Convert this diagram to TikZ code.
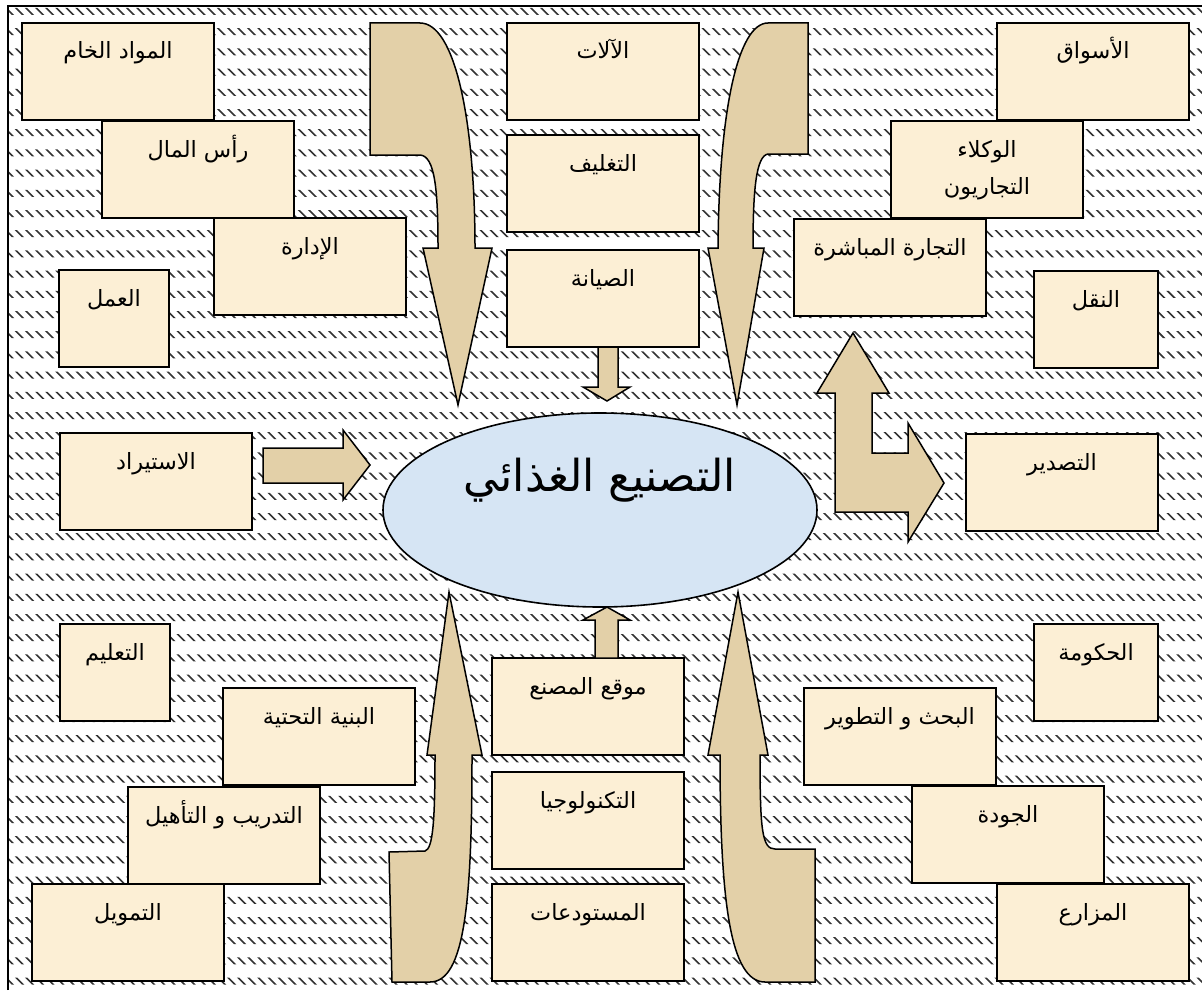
\documentclass[tikz,border=0pt]{standalone}
\usepackage{fontspec}
\newfontfamily\arabicfont[Script=Arabic]{DejaVu Sans}
\TeXXeTstate=1
\usepackage{tikz}
\usetikzlibrary{shapes,positioning}

\definecolor{boxfill}{RGB}{252,239,213}
\definecolor{arrowfill}{RGB}{227,208,168}
\definecolor{hubfill}{RGB}{214,229,244}
\newcommand\artext[1]{{\arabicfont\beginR#1\endR}}

\begin{document}
\begin{tikzpicture}[
    x=0.5pt, y=-0.5pt,
    box/.style={rectangle, draw, line width=0.8pt, fill=boxfill, outer sep=0pt,
        inner xsep=2pt, inner ysep=0pt, minimum width=#1,
        text height=18pt, text depth=30.5pt, font=\fontsize{11.2}{14}\selectfont},
    box/.default=96pt,
    hub/.style={ellipse, draw, line width=0.8pt, fill=hubfill,
        minimum width=217pt, minimum height=97pt,
        text height=10pt, text depth=29pt, font=\fontsize{22}{26}\selectfont},
    blockarrow/.style={draw, line width=0.75pt, fill=arrowfill, line join=miter},
    hatch/.style={line width=0.8pt, black!80}
]
\useasboundingbox (0,0) rectangle (1202,990);
\fill[white] (0,0) rectangle (1202,990);

% hatched background
\begin{scope}
\clip \foreach \r in {0,...,48} { (8,{8+20.2*\r}) rectangle (1202,{15+20.2*\r}) };
\foreach \k in {-100,...,120}
    \draw[hatch] ({8+10.1*\k},0) -- ++(1000,1000);
\end{scope}
\draw[line width=1pt] (8,990) -- (8,6) -- (1202,6);

% left side
\node[box, anchor=north west] (raw) at (22,23) {\artext{المواد الخام}};
\node[box, anchor=north west] (capital) at (102,121) {\artext{رأس المال}};
\node[box, anchor=north west] (mgmt) at (214,218) {\artext{الإدارة}};
\node[box=55pt, anchor=north west] (labour) at (59,270) {\artext{العمل}};
\node[box, anchor=north west] (imports) at (60,433) {\artext{الاستيراد}};
\node[box=55pt, anchor=north west] (edu) at (60,624) {\artext{التعليم}};
\node[box, anchor=north west] (infra) at (223,688) {\artext{البنية التحتية}};
\node[box, anchor=north west] (train) at (128,787) {\artext{التدريب و التأهيل}};
\node[box, anchor=north west] (funding) at (32,884) {\artext{التمويل}};

% middle
\node[box, anchor=north west] (machines) at (507,23) {\artext{الآلات}};
\node[box, below=7.5pt of machines] (packing) {\artext{التغليف}};
\node[box, below=9pt of packing] (maint) {\artext{الصيانة}};
\node[box, anchor=north west] (site) at (492,658) {\artext{موقع المصنع}};
\node[box, below=8.5pt of site] (tech) {\artext{التكنولوجيا}};
\node[box, below=7.5pt of tech] (stores) {\artext{المستودعات}};

% right side
\node[box, anchor=north west] (markets) at (997,23) {\artext{الأسواق}};
\node[box, anchor=north west] (agents) at (891,121)
    {\begin{tabular}[t]{@{}c@{}}\artext{الوكلاء}\\[4.5pt]\artext{التجاريون}\end{tabular}};
\node[box, anchor=north west] (direct) at (794,219) {\artext{التجارة المباشرة}};
\node[box=62pt, anchor=north west] (transport) at (1034,271) {\artext{النقل}};
\node[box, anchor=north west] (exports) at (966,434) {\artext{التصدير}};
\node[box=62pt, anchor=north west] (gov) at (1034,624) {\artext{الحكومة}};
\node[box, anchor=north west] (rnd) at (804,688) {\artext{البحث و التطوير}};
\node[box, anchor=north west] (quality) at (912,786) {\artext{الجودة}};
\node[box, anchor=north west] (farms) at (997,884) {\artext{المزارع}};

\node[hub] (hub) at (600,510) {\artext{التصنيع الغذائي}};

% curved arrows into the hub
\draw[blockarrow] (370,23) -- (420,23) .. controls (455,23) and (475,120) .. (475,248)
    -- (492,248) -- (458,405) -- (423,248) -- (438,248)
    .. controls (438,190) and (435,156) .. (420,155) -- (370,155) -- cycle;
\draw[blockarrow] (808,23) -- (808,154) -- (768,154)
    .. controls (756,156) and (753,190) .. (753,248) -- (764,248) -- (737,405)
    -- (708,248) -- (718,248) .. controls (719,110) and (738,23) .. (768,23) -- cycle;
\draw[blockarrow] (449,592) -- (482,755) -- (472,755)
    .. controls (472,900) and (465,982) .. (430,982) -- (392,982) -- (389,852)
    -- (425,851) .. controls (433,849) and (435,820) .. (435,755) -- (427,755) -- cycle;
\draw[blockarrow] (738,592) -- (768,755) -- (760,755)
    .. controls (760,830) and (762,849) .. (775,849) -- (815,849) -- (815,982)
    -- (765,982) .. controls (730,982) and (720,900) .. (720,755) -- (708,755) -- cycle;

% straight arrows
\draw[blockarrow] (598,347) -- (598,387) -- (583,387) -- (607,401) -- (630,387)
    -- (618,387) -- (618,347) -- cycle;
\draw[blockarrow] (595,658) -- (595,620) -- (583,620) -- (607,607) -- (630,620)
    -- (618,620) -- (618,658) -- cycle;
\draw[blockarrow] (263,448) -- (343,448) -- (343,430) -- (370,465) -- (343,500)
    -- (343,483) -- (263,483) -- cycle;

% export arrow
\draw[blockarrow] (853,333) -- (889,393) -- (872,393) -- (872,453) -- (908,453)
    -- (908,423) -- (944,483) -- (908,542) -- (908,512) -- (835,512) -- (835,393)
    -- (817,393) -- cycle;
\end{tikzpicture}
\end{document}
